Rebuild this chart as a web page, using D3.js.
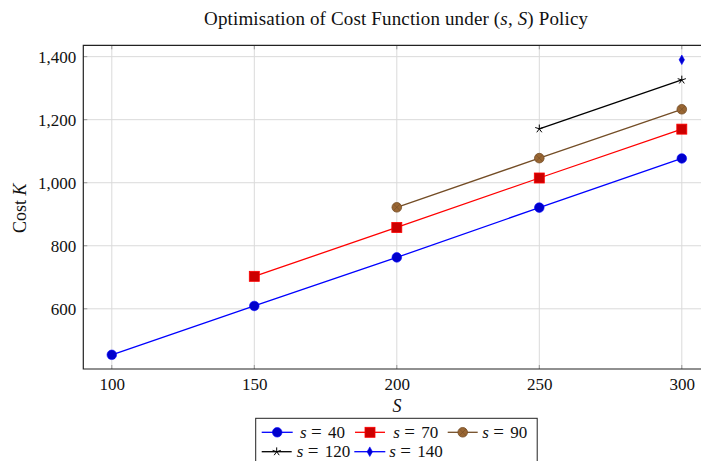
<!DOCTYPE html>
<html><head><meta charset="utf-8">
<script src="https://cdn.jsdelivr.net/npm/d3@7"></script>
<style>
body{margin:0;background:#fff;}
svg{display:block;}
text{font-family:"Liberation Serif","DejaVu Serif",serif;fill:#111;}
</style></head>
<body>
<svg id="c" width="701" height="461"></svg>
<script>
const xTicks = [100, 150, 200, 250, 300];
const yTicks = [600, 800, 1000, 1200, 1400];
const s40  = [[100, 454], [150, 609], [200, 763], [250, 921], [300, 1077]];
const s70  = [[150, 703], [200, 858], [250, 1015], [300, 1170]];
const s90  = [[200, 922], [250, 1078], [300, 1233]];
const s120 = [[250, 1171], [300, 1326]];
const s140 = [[300, 1390]];
const seriesNames = ["40", "70", "90", "120", "140"];

const series = [
  {name: seriesNames[0], data: s40,  line: "#0000ff", fill: "#0000cc", mark: "circle"},
  {name: seriesNames[1], data: s70,  line: "#ff0000", fill: "#cc0000", mark: "square"},
  {name: seriesNames[2], data: s90,  line: "#734d26", fill: "#996633", mark: "otimes"},
  {name: seriesNames[3], data: s120, line: "#000000", fill: "#000000", mark: "star"},
  {name: seriesNames[4], data: s140, line: "#0000ff", fill: "#0000cc", mark: "diamond"}
];

const svg = d3.select("#c");
const L = 83.3, T = 45.3, B = 369;
const x = d3.scaleLinear().domain([90, 310]).range([L, 710.3]);
const y = d3.scaleLinear().domain([409, 1436]).range([B, T]);

// grid
const g = svg.append("g");
g.selectAll(".gx").data(xTicks).enter().append("line")
  .attr("x1", d => x(d)).attr("x2", d => x(d)).attr("y1", T).attr("y2", B)
  .attr("stroke", "#dadada").attr("stroke-width", 1);
g.selectAll(".gy").data(yTicks).enter().append("line")
  .attr("x1", L).attr("x2", 701).attr("y1", d => y(d)).attr("y2", d => y(d))
  .attr("stroke", "#dadada").attr("stroke-width", 1);
// small inward ticks
g.selectAll(".tx").data(xTicks).enter().append("path")
  .attr("d", d => `M${x(d)},${B}v-4M${x(d)},${T}v4`).attr("stroke", "#999").attr("stroke-width", 1);
g.selectAll(".ty").data(yTicks).enter().append("path")
  .attr("d", d => `M${L},${y(d)}h4`).attr("stroke", "#999").attr("stroke-width", 1);

// axes via d3
const xAxis = svg.append("g").attr("transform", `translate(0,${B})`)
  .call(d3.axisBottom(x).tickValues(xTicks).tickSize(0).tickPadding(9).tickFormat(d3.format("d")));
const yAxis = svg.append("g").attr("transform", `translate(${L},0)`)
  .call(d3.axisLeft(y).tickValues(yTicks).tickSize(0).tickPadding(7).tickFormat(d3.format(",")));
[xAxis, yAxis].forEach(a => {
  a.select(".domain").remove();
  a.selectAll("text").attr("font-family", "Liberation Serif, DejaVu Serif, serif")
    .attr("font-size", 17).attr("fill", "#111");
});
xAxis.selectAll("text").attr("dy", "0.71em");
// box
svg.append("path").attr("d", `M701,${T}H${L}V${B}H701`).attr("fill", "none")
  .attr("stroke", "#222").attr("stroke-width", 1.2);

function starPath(r) {
  let p = "";
  for (let i = 0; i < 5; i++) {
    const a = -Math.PI / 2 + i * 2 * Math.PI / 5;
    p += `M0,0L${(r * Math.cos(a)).toFixed(2)},${(r * Math.sin(a)).toFixed(2)}`;
  }
  return p;
}
function drawMark(sel, s) {
  if (s.mark === "circle") {
    sel.append("circle").attr("r", 4.8).attr("fill", s.fill).attr("stroke", s.line).attr("stroke-width", 0.6);
  } else if (s.mark === "square") {
    sel.append("rect").attr("x", -5).attr("y", -5).attr("width", 10).attr("height", 10)
      .attr("fill", s.fill).attr("stroke", s.line).attr("stroke-width", 0.8);
  } else if (s.mark === "otimes") {
    sel.append("circle").attr("r", 4.8).attr("fill", s.fill).attr("stroke", s.line).attr("stroke-width", 0.8);
    sel.append("path").attr("d", "M-3.3,-3.3L3.3,3.3M-3.3,3.3L3.3,-3.3").attr("stroke", s.line).attr("stroke-width", 0.6);
  } else if (s.mark === "star") {
    sel.append("path").attr("d", starPath(4.3)).attr("stroke", s.line).attr("stroke-width", 1).attr("fill", "none");
  } else if (s.mark === "diamond") {
    sel.append("path").attr("d", "M0,-4.8L2.7,0L0,4.8L-2.7,0Z").attr("fill", s.fill).attr("stroke", s.line).attr("stroke-width", 0.6);
  }
}

const line = d3.line().x(d => x(d[0])).y(d => y(d[1]));
series.forEach(s => {
  svg.append("path").datum(s.data).attr("d", line).attr("fill", "none")
    .attr("stroke", s.line).attr("stroke-width", 1.3);
  svg.selectAll(null).data(s.data).enter().append("g")
    .attr("transform", d => `translate(${x(d[0])},${y(d[1])})`)
    .each(function () { drawMark(d3.select(this), s); });
});

// title
svg.append("text").attr("x", 396).attr("y", 25).attr("text-anchor", "middle")
  .attr("font-size", 19).attr("textLength", 384).attr("lengthAdjust", "spacing")
  .html('Optimisation of Cost Function under (<tspan font-style="italic">s</tspan>, <tspan font-style="italic">S</tspan>) Policy');
// axis labels
svg.append("text").attr("x", 397).attr("y", 412).attr("text-anchor", "middle")
  .attr("font-size", 18).attr("font-style", "italic").text("S");
svg.append("text").attr("transform", `translate(26,${(T + B) / 2 + 1}) rotate(-90)`)
  .attr("text-anchor", "middle").attr("font-size", 18)
  .html('Cost <tspan font-style="italic">K</tspan>');

// legend
const lg = svg.append("g");
lg.append("rect").attr("x", 255.7).attr("y", 418.3).attr("width", 281.5).attr("height", 48)
  .attr("fill", "#fff").attr("stroke", "#222").attr("stroke-width", 1);
const legPos = [[261.7, 432.3, 31], [355, 432.3, 30], [447.7, 432.3, 30], [261.7, 451.7, 30], [354.3, 451.7, 31]];
const textStart = [300, 393.3, 482.3, 296.7, 389.3];
series.forEach((s, i) => {
  const [lx, ly, lw] = legPos[i];
  lg.append("line").attr("x1", lx).attr("x2", lx + lw).attr("y1", ly).attr("y2", ly)
    .attr("stroke", s.line).attr("stroke-width", 1.3);
  drawMark(lg.append("g").attr("transform", `translate(${lx + lw / 2},${ly})`), s);
  const t = lg.append("text").attr("y", ly + 5.5).attr("font-size", 17);
  t.append("tspan").attr("x", textStart[i]).attr("font-style", "italic").text("s");
  t.append("tspan").attr("x", textStart[i] + 11).attr("font-size", 19).text("=");
  t.append("tspan").attr("x", textStart[i] + 28).text(s.name);
});
</script>
</body></html>
